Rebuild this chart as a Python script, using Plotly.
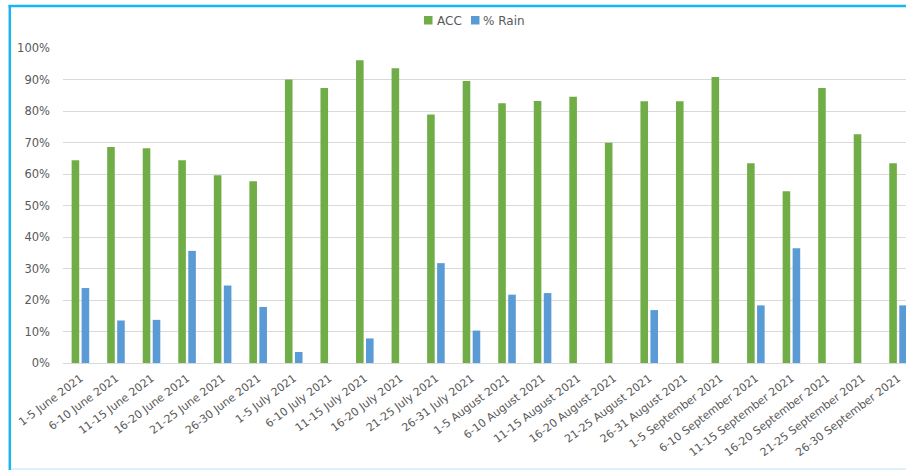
import plotly.graph_objects as go

# Five-day periods, June - September 2021
periods = [
    "1-5 June 2021", "6-10 June 2021", "11-15 June 2021", "16-20 June 2021",
    "21-25 June 2021", "26-30 June 2021", "1-5 July 2021", "6-10 July 2021",
    "11-15 July 2021", "16-20 July 2021", "21-25 July 2021", "26-31 July 2021",
    "1-5 August 2021", "6-10 August 2021", "11-15 August 2021", "16-20 August 2021",
    "21-25 August 2021", "26-31 August 2021", "1-5 September 2021", "6-10 September 2021",
    "11-15 September 2021", "16-20 September 2021", "21-25 September 2021", "26-30 September 2021",
]

# Accuracy per period (fraction)
acc = [0.644, 0.686, 0.682, 0.644, 0.596, 0.577, 0.900, 0.873, 0.961, 0.936, 0.789, 0.895,
       0.825, 0.832, 0.845, 0.699, 0.831, 0.831, 0.908, 0.634, 0.545, 0.873, 0.726, 0.634]

# Share of rainy cases per period (fraction)
rain = [0.238, 0.135, 0.137, 0.356, 0.246, 0.178, 0.035, 0.0, 0.078, 0.0, 0.317, 0.103,
        0.217, 0.222, 0.0, 0.0, 0.168, 0.0, 0.0, 0.183, 0.364, 0.0, 0.0, 0.183]

GREEN = "#70AD47"
BLUE = "#5B9BD5"
TEXT = "#595959"
GRID = "#D9D9D9"
FRAME = "#19B4F2"

W, H = 906, 470
ML, MT, MB = 63, 48, 107
PW, PH = W - ML, H - MT - MB


def px_x(px):
    return (px - ML) / PW


def px_y(py):
    return (H - MB - py) / PH


fig = go.Figure()
fig.add_trace(go.Bar(x=periods, y=acc, name="ACC", marker_color=GREEN, marker_line_width=0))
fig.add_trace(go.Bar(x=periods, y=rain, name="% Rain", marker_color=BLUE, marker_line_width=0))

cat_px = 35.55
fig.update_layout(
    width=W, height=H,
    margin=dict(l=ML, r=0, t=MT, b=MB),
    paper_bgcolor="white", plot_bgcolor="white",
    barmode="group", bargap=0.438, bargroupgap=0.24,
    showlegend=False,
    font=dict(family="DejaVu Sans", color=TEXT),
    xaxis=dict(
        type="category",
        range=[-0.49, -0.49 + PW / cat_px],
        tickangle=-37,
        tickfont=dict(size=11, color=TEXT),
        showgrid=False, showline=False, ticks="", ticklabelstandoff=6,
    ),
    yaxis=dict(
        range=[0, 1.0], dtick=0.1, tickformat=".0%",
        tickfont=dict(size=11.5, color=TEXT),
        showgrid=True, gridcolor=GRID, gridwidth=1,
        zeroline=True, zerolinecolor=GRID, zerolinewidth=1,
        showline=False, ticks="", ticklabelstandoff=12,
    ),
)

# Legend: small colour squares with labels, centred above the plot
shapes = []
for x0, color in [(424, GREEN), (471, BLUE)]:
    shapes.append(dict(type="rect", xref="paper", yref="paper",
                       x0=px_x(x0), x1=px_x(x0 + 8.5), y0=px_y(24.5), y1=px_y(16),
                       fillcolor=color, line=dict(width=0)))
annotations = []
for x0, label in [(435, "ACC"), (481, "% Rain")]:
    annotations.append(dict(text=label, xref="paper", yref="paper",
                            x=px_x(x0), y=px_y(20.5), xanchor="left", yanchor="middle",
                            showarrow=False, font=dict(size=12, color=TEXT)))

# Frame around the chart
shapes.append(dict(type="line", xref="paper", yref="paper",
                   x0=px_x(8.5), x1=px_x(W), y0=px_y(6), y1=px_y(6),
                   line=dict(color=FRAME, width=2.5)))
shapes.append(dict(type="line", xref="paper", yref="paper",
                   x0=px_x(9.8), x1=px_x(9.8), y0=px_y(5), y1=px_y(H),
                   line=dict(color=FRAME, width=2.5)))
shapes.append(dict(type="line", xref="paper", yref="paper",
                   x0=px_x(11), x1=px_x(W), y0=px_y(469), y1=px_y(469),
                   line=dict(color="#D3ECF8", width=1.5)))

fig.update_layout(shapes=shapes, annotations=annotations)

fig.write_html("out.html")
